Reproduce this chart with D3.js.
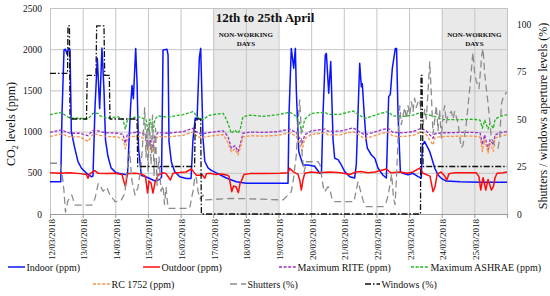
<!DOCTYPE html>
<html>
<head>
<meta charset="utf-8">
<script src="https://cdn.jsdelivr.net/npm/d3@7"></script>
<style>
body{margin:0;background:#fff;}
svg text{font-family:"Liberation Serif","Times New Roman",serif;fill:#111;}
</style>
</head>
<body>
<script>
//pseudo-global data: [hours since 12/03/2018 00:00, value]
var indoorPpm = [[0,390],[7.9,390],[8.8,1200],[10.3,1990],[11.4,2000],[12.5,1940],[13.6,2010],[14.7,1990],[15.7,1000],[18.2,800],[20.6,635],[23.0,558],[26.7,497],[30.4,453],[31.6,460],[33.1,1300],[34.8,1890],[36.5,1280],[38.2,2015],[39.7,1500],[40.8,900],[42.6,700],[44.9,560],[48.5,500],[55.1,480],[57.0,480],[59.3,1320],[60.3,1560],[61.3,1400],[63.0,2010],[64.0,1600],[65.1,800],[67.1,470],[72.1,440],[77.2,400],[80.9,420],[82.0,450],[83.1,1990],[86.0,2000],[86.8,1930],[87.5,880],[89.2,635],[91.7,514],[95.4,453],[100.2,432],[103.7,430],[105.1,900],[106.8,1165],[108.1,1140],[109.8,1900],[110.8,2010],[112.5,920],[113.8,640],[116.2,560],[118.6,530],[122.3,500],[129.6,437],[137.0,392],[144.3,373],[175.0,373],[175.7,1200],[177.4,2010],[179.2,1770],[180.4,2010],[181.1,1500],[182.9,756],[186.0,595],[189.7,595],[194.6,580],[198.3,494],[199.6,494],[200.7,1200],[202.4,1930],[203.2,1950],[204.9,1465],[206.4,1850],[208.1,900],[209.3,676],[211.8,660],[214.2,595],[216.7,514],[220.4,453],[224.0,437],[225.2,600],[226.5,1242],[227.7,1830],[228.9,1545],[229.6,1580],[230.9,1242],[232.4,900],[233.3,800],[236.3,716],[238.8,676],[241.2,555],[244.9,470],[247.3,437],[249.0,1424],[250.2,1450],[251.7,1770],[253.9,2010],[254.8,2010],[255.9,1200],[257.6,514],[259.6,494],[263.2,475],[266.9,494],[270.6,453],[273.0,437],[273.8,838],[275.5,880],[276.7,838],[279.2,756],[280.7,676],[282.9,555],[285.3,474],[287.7,433],[291.4,400],[301.5,390],[316.2,385],[336.0,385]];

var outdoorPpm = [[0,500],[7.4,495],[14.7,500],[22.1,490],[26.7,480],[27.9,433],[29.4,490],[32.9,526],[35.3,495],[41.2,490],[47.8,495],[52.9,480],[55.4,332],[57.0,490],[62.5,495],[66.9,485],[70.2,460],[71.7,255],[72.8,400],[74.3,376],[75.7,255],[77.2,380],[79.4,470],[83.1,500],[85.3,490],[88.5,413],[90.4,494],[95.6,505],[100.0,510],[103.9,546],[105.9,505],[107.7,470],[110.1,470],[111.8,480],[113.8,433],[115.1,490],[117.6,494],[122.1,480],[126.0,485],[129.9,473],[131.6,460],[133.6,271],[134.9,340],[136.8,330],[138.5,259],[139.7,370],[141.2,420],[142.6,480],[147.1,490],[156.6,490],[169.1,495],[175.0,500],[176.2,555],[178.7,514],[182.4,480],[183.6,413],[184.8,291],[186.0,413],[187.3,494],[191.9,510],[197.1,500],[205.9,510],[214.0,500],[220.4,480],[225.0,510],[228.7,515],[233.8,500],[239.0,510],[247.3,546],[250.7,500],[257.4,510],[262.5,494],[266.9,510],[271.8,558],[274.3,494],[279.4,460],[281.6,271],[283.1,330],[284.6,480],[287.5,510],[290.2,460],[291.7,413],[293.4,490],[297.8,500],[313.5,500],[315.4,450],[316.7,291],[318.4,440],[320.4,291],[322.1,420],[324.5,291],[326.0,332],[327.2,440],[328.7,494],[333.1,500],[336.0,510]];

var ashraePpm = [[0,1205],[5.1,1225],[8.8,1230],[11.8,1190],[14.7,1162],[22.1,1162],[27.9,1150],[31.6,1222],[35.3,1222],[36.8,1190],[42.6,1165],[50.0,1180],[53.7,1150],[55.4,1030],[57.0,1150],[62.5,1175],[66.2,1175],[70.6,1150],[72.1,1000],[73.5,1150],[75.7,1000],[77.2,1150],[79.4,1190],[86.8,1175],[91.9,1190],[97.8,1205],[105.1,1242],[107.4,1200],[110.1,1150],[112.5,1150],[117.6,1200],[127.2,1222],[128.7,1180],[130.9,1100],[133.3,980],[136.0,1020],[138.2,980],[139.7,1020],[141.9,1180],[147.1,1200],[156.6,1185],[167.6,1205],[176.2,1235],[180.9,1190],[183.6,1100],[185.3,1000],[187.3,1150],[192.1,1222],[202.2,1235],[204.4,1210],[213.2,1210],[222.8,1250],[226.5,1210],[231.4,1160],[236.8,1185],[243.4,1222],[248.5,1242],[252.2,1190],[259.6,1185],[266.9,1200],[273.0,1235],[276.5,1210],[281.6,1190],[288.9,1145],[301.5,1145],[311.0,1150],[316.2,1140],[317.9,1040],[319.6,1140],[322.1,1030],[323.5,1100],[326.0,1040],[327.2,1150],[330.9,1185],[336.0,1205]];

var ritePpm = [[0,990],[5.1,1010],[8.8,1020],[11.8,995],[14.7,980],[22.1,980],[27.9,950],[31.6,1015],[35.3,1010],[36.8,1000],[42.6,985],[50.0,980],[53.7,965],[55.4,860],[57.0,975],[62.5,990],[66.2,985],[70.6,960],[72.1,820],[73.5,900],[75.7,800],[77.2,950],[79.4,985],[86.8,980],[91.9,990],[97.8,1000],[105.1,1040],[107.4,1000],[110.1,975],[112.5,975],[117.6,990],[127.2,1010],[128.7,985],[130.9,940],[133.3,797],[136.0,830],[138.2,756],[139.7,830],[141.9,980],[147.1,995],[156.6,990],[167.6,1000],[176.2,1030],[180.9,990],[183.6,920],[185.3,850],[187.3,960],[192.1,1010],[202.2,1030],[204.4,1005],[213.2,1005],[222.8,1045],[226.5,1010],[231.4,960],[236.8,985],[243.4,1020],[248.5,1040],[252.2,990],[259.6,985],[266.9,1000],[273.0,1040],[276.5,1010],[281.6,920],[283.1,975],[288.9,985],[301.5,990],[311.0,990],[316.2,985],[317.9,840],[319.6,960],[322.1,780],[323.5,900],[326.0,840],[327.2,960],[330.9,985],[336.0,1000]];

var rc1752Ppm = [[0,940],[5.1,960],[8.8,970],[11.8,950],[14.7,935],[22.1,935],[27.9,880],[31.6,970],[35.3,965],[36.8,955],[42.6,940],[50.0,935],[53.7,900],[55.4,790],[57.0,930],[62.5,945],[66.2,940],[70.6,900],[72.1,760],[73.5,860],[75.7,740],[77.2,900],[79.4,940],[86.8,935],[91.9,945],[97.8,955],[105.1,995],[107.4,955],[110.1,930],[112.5,930],[117.6,945],[127.2,965],[128.7,930],[130.9,860],[133.3,756],[136.0,790],[138.2,716],[139.7,790],[141.9,935],[147.1,950],[156.6,945],[167.6,955],[176.2,985],[180.9,945],[183.6,860],[185.3,770],[187.3,915],[192.1,965],[202.2,985],[204.4,960],[213.2,960],[222.8,1000],[226.5,965],[231.4,915],[236.8,940],[243.4,975],[248.5,995],[252.2,945],[259.6,940],[266.9,955],[273.0,995],[276.5,965],[281.6,840],[283.1,930],[288.9,940],[301.5,945],[311.0,945],[316.2,935],[317.9,760],[319.6,900],[322.1,740],[323.5,860],[326.0,760],[327.2,920],[330.9,945],[336.0,960]];

var shuttersPct = [[0,26.7],[7.4,26.7],[8.8,22],[10.3,12],[11.4,1],[13.2,7],[16.0,10],[18.4,4.7],[30.7,4.7],[33.1,8.2],[35.5,16],[36.8,15],[39.0,12],[41.7,14],[44.1,10],[47.8,6.5],[52.2,7],[55.1,11],[56.4,22],[57.6,28],[58.6,33],[60.1,18],[62.5,10],[64.7,14],[66.9,25],[68.4,40],[69.6,56],[70.6,30],[71.3,45],[72.1,22],[73.2,48],[74.3,26],[75.4,52],[76.5,20],[77.6,45],[78.7,15],[80.1,30],[81.6,12],[83.1,15],[84.2,5],[85.3,14],[86.8,3],[89.2,3],[102.7,3],[104.0,8],[105.1,12],[106.6,20],[107.6,19],[108.8,12],[110.3,8],[112.5,10],[113.8,7.4],[132.4,8.2],[147.1,8],[171.3,7.4],[177.4,11.7],[178.9,18],[181.1,31],[182.4,48.6],[183.6,60],[184.5,48],[185.3,32],[186.8,22],[188.6,27.5],[197.1,27.5],[198.5,26],[200.7,15],[202.0,11.7],[204.4,14.4],[205.9,12.6],[207.3,8],[209.3,6.5],[223.5,6.5],[225.0,12],[226.5,17],[228.0,13],[230.2,7],[232.4,3.9],[244.9,3.9],[247.1,6],[248.7,10],[251.2,21],[252.6,8],[253.7,5],[254.8,20],[255.9,40],[257.2,57],[258.3,47],[259.6,52],[260.8,56],[262.0,50],[263.2,57],[264.5,52],[265.7,59],[266.9,54],[268.1,61],[269.3,56],[270.6,59],[271.8,60],[273.0,52],[274.3,47],[275.5,55],[276.7,50],[277.9,64],[279.2,80],[280.3,64],[281.6,42],[282.8,49],[284.0,57],[285.3,44],[286.5,55],[287.7,40],[288.9,52],[290.2,57],[291.4,48],[292.6,52],[295.1,54],[296.3,50],[297.5,54],[300.0,48],[302.3,35],[303.6,36],[306.0,47],[308.6,66],[310.9,85],[312.2,74],[313.4,70],[315.4,66],[317.5,84],[318.4,87],[319.6,74],[320.8,66],[322.1,58],[324.5,40],[327.0,36],[329.4,34.6],[330.7,40],[331.9,58],[333.1,61],[335.5,64],[336.0,64]];

var windowsPct = [[0,74],[12.9,74],[13.2,99],[14.3,99],[14.7,50],[26.8,50],[27.4,73],[33.8,73],[34.3,99],[39.7,99],[40.2,73],[43.6,73],[44.1,50],[64.0,50],[64.5,25],[106.3,25],[106.8,50],[110.8,50],[111.3,0],[272.4,0],[272.8,73],[273.5,73],[274.3,25],[336.0,25]];

var ppmTicks = [0, 500, 1000, 1500, 2000, 2500];
var pctTicks = [0, 25, 50, 75, 100];
var nonWorking = [[5, 7], [12, 14]]; //day offsets of weekends
var seriesNames = ["Indoor (ppm)", "Outdoor (ppm)", "Maximum RITE (ppm)", "Maximum ASHRAE (ppm)",
                   "RC 1752 (ppm)", "Shutters (%)", "Windows (%)"];

(function(){

var start = new Date(2018, 2, 12);
var left = 50, right = 507, top = 8, bottom = 214;
var serif = "'Liberation Serif', 'Times New Roman', serif";

//series styles, same order as seriesNames
var styles = [
    {color: "#0a14ff", dash: null, w: 1.5, axis: "ppm", data: indoorPpm},
    {color: "#ff0d0d", dash: null, w: 1.5, axis: "ppm", data: outdoorPpm},
    {color: "#9a2ec9", dash: "3,1.6", w: 1.3, axis: "ppm", data: ritePpm},
    {color: "#1fb51f", dash: "3,1.6", w: 1.3, axis: "ppm", data: ashraePpm},
    {color: "#f7924a", dash: "3,1.6", w: 1.3, axis: "ppm", data: rc1752Ppm},
    {color: "#8c8c8c", dash: "7,4", w: 1.3, axis: "pct", data: shuttersPct},
    {color: "#111111", dash: "6,2,1.5,2", w: 1.3, axis: "pct", data: windowsPct}
];

//legend placement: [lineX0, lineX1, y]
var legendPos = [[8,25,267],[143,160,267],[279,296,267],[411,429,267],
                 [93,110,284],[230,246,284],[365,380,284]];

function toDate(h){ return new Date(start.getTime() + h * 3600000); }
function dayAt(d){ return d3.timeDay.offset(start, d); }

var svg = d3.select("body")
    .append("svg")
    .attr("width", 550)
    .attr("height", 296);

var x = d3.scaleTime()
    .domain([start, dayAt(14)])
    .range([left, right]);

var y = d3.scaleLinear()
    .domain([0, 2500])
    .range([bottom, top]);

var yPct = d3.scaleLinear()
    .domain([0, 100])
    .range([bottom, 24]);

//shaded non-working days
svg.selectAll(".shade")
    .data(nonWorking)
    .enter()
    .append("rect")
    .attr("class", "shade")
    .attr("x", function(d){ return x(dayAt(d[0])); })
    .attr("y", top)
    .attr("width", function(d){ return x(dayAt(d[1])) - x(dayAt(d[0])); })
    .attr("height", bottom - top)
    .style("fill", "#e9e9e9");

//horizontal grid + left tick labels
var yAxis = svg.append("g")
    .attr("transform", "translate(" + left + ",0)")
    .call(d3.axisLeft(y).tickValues(ppmTicks).tickFormat(d3.format("d"))
        .tickSize(-(right - left)).tickPadding(8))
    .attr("font-family", serif);
yAxis.select(".domain").remove();
yAxis.selectAll("line").style("stroke", "#c4c4c4");
yAxis.selectAll("text").style("font-size", "9.5px");

//vertical grid
var days = d3.timeDay.range(start, dayAt(15));
var xGrid = svg.append("g")
    .attr("transform", "translate(0," + bottom + ")")
    .call(d3.axisBottom(x).tickValues(days).tickSize(-(bottom - top)).tickFormat(""));
xGrid.select(".domain").remove();
xGrid.selectAll("line").style("stroke", "#c4c4c4");

//bottom axis with rotated dates
var xAxis = svg.append("g")
    .attr("transform", "translate(0," + bottom + ")")
    .call(d3.axisBottom(x).tickValues(days).tickSize(4).tickFormat(d3.timeFormat("%d/%m/%Y")))
    .attr("font-family", serif);
xAxis.select(".domain").style("stroke", "#9a9a9a");
xAxis.selectAll("line").style("stroke", "#9a9a9a");
xAxis.selectAll("text")
    .filter(function(d, i){ return i == days.length - 1; })
    .remove();
xAxis.selectAll("text")
    .attr("transform", "translate(4,5) rotate(-90)")
    .attr("x", 0)
    .attr("y", 0)
    .attr("dy", 0)
    .style("text-anchor", "end")
    .style("font-size", "9px");

//right axis labels
var yRight = svg.append("g")
    .attr("transform", "translate(" + right + ",0)")
    .call(d3.axisRight(yPct).tickValues(pctTicks).tickSize(0).tickPadding(10))
    .attr("font-family", serif);
yRight.select(".domain").remove();
yRight.selectAll("text").style("font-size", "9.5px");

//lines
var lineFor = function(scale){
    return d3.line()
        .x(function(d){ return x(toDate(d[0])); })
        .y(function(d){ return scale(d[1]); });
};

styles.forEach(function(s){
    svg.append("path")
        .datum(s.data)
        .attr("d", lineFor(s.axis == "ppm" ? y : yPct))
        .style("fill", "none")
        .style("stroke", s.color)
        .style("stroke-width", s.w)
        .style("stroke-dasharray", s.dash)
        .style("stroke-linejoin", "round");
});

//title and annotations
svg.append("text")
    .attr("x", 265)
    .attr("y", 22)
    .style("text-anchor", "middle")
    .style("font-size", "13px")
    .style("font-weight", "bold")
    .text("12th to 25th April");

nonWorking.forEach(function(d){
    var cx = (x(dayAt(d[0])) + x(dayAt(d[1]))) / 2;
    svg.append("text").attr("x", cx).attr("y", 36.5)
        .style("text-anchor", "middle").style("font-size", "7px").style("font-weight", "bold")
        .text("NON-WORKING");
    svg.append("text").attr("x", cx).attr("y", 45.5)
        .style("text-anchor", "middle").style("font-size", "7px").style("font-weight", "bold")
        .text("DAYS");
});

//axis titles
var leftTitle = svg.append("text")
    .attr("transform", "translate(15,124) rotate(-90)")
    .style("text-anchor", "middle")
    .style("font-size", "12px");
leftTitle.append("tspan").text("CO");
leftTitle.append("tspan").attr("dy", 3).style("font-size", "8px").text("2");
leftTitle.append("tspan").attr("dy", -3).text(" levels (ppm)");

svg.append("text")
    .attr("transform", "translate(547,116) rotate(-90)")
    .style("text-anchor", "middle")
    .style("font-size", "12px")
    .text("Shutters / windows aperture levels (%)");

//legend
var legend = svg.selectAll(".legend")
    .data(seriesNames)
    .enter()
    .append("g")
    .attr("class", "legend");

legend.append("line")
    .attr("x1", function(d, i){ return legendPos[i][0]; })
    .attr("x2", function(d, i){ return legendPos[i][1]; })
    .attr("y1", function(d, i){ return legendPos[i][2]; })
    .attr("y2", function(d, i){ return legendPos[i][2]; })
    .style("stroke", function(d, i){ return styles[i].color; })
    .style("stroke-width", function(d, i){ return styles[i].w; })
    .style("stroke-dasharray", function(d, i){ return styles[i].dash; });

legend.append("text")
    .attr("x", function(d, i){ return legendPos[i][1] + 1.5; })
    .attr("y", function(d, i){ return legendPos[i][2] + 3.5; })
    .style("font-size", "10px")
    .text(function(d){ return d; });

})();
</script>
</body>
</html>
